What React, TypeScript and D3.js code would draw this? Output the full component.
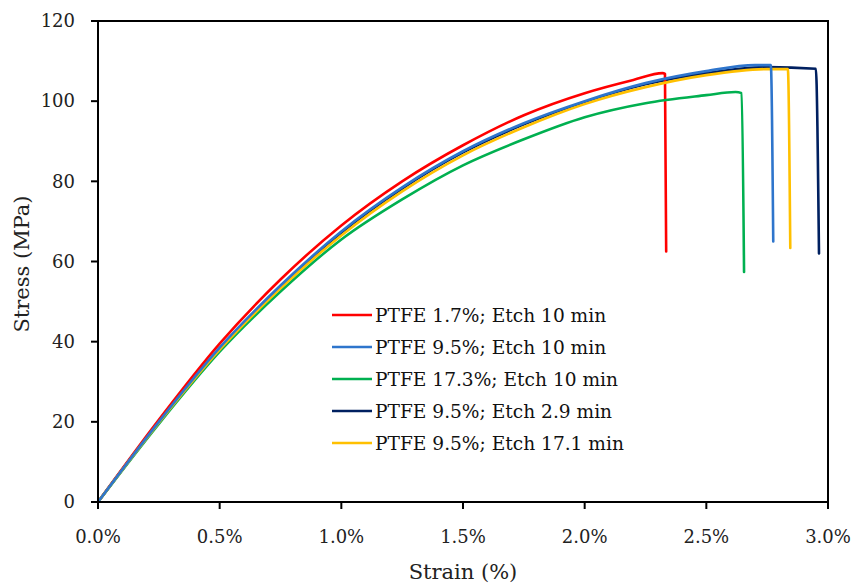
import React from "react";
import * as d3 from "d3";

const seriesNames = [
  "PTFE 1.7%; Etch 10 min",
  "PTFE 9.5%; Etch 10 min",
  "PTFE 17.3%; Etch 10 min",
  "PTFE 9.5%; Etch 2.9 min",
  "PTFE 9.5%; Etch 17.1 min",
];
const seriesColors = ["#FF0000", "#2E75CC", "#00B050", "#002060", "#FFC000"];
const drawOrder = [3, 0, 2, 4, 1];

// strain (%) , stress (MPa)
const redStrain = [0, 0.25, 0.5, 0.75, 1.0, 1.25, 1.5, 1.75, 2.0, 2.2, 2.32, 2.33, 2.335];
const redStress = [0, 20.5, 39.5, 55.5, 69, 80, 89, 96.5, 102, 105.3, 107, 106.8, 62.5];

const blueStrain = [0, 0.25, 0.5, 0.75, 1.0, 1.25, 1.5, 1.75, 2.0, 2.25, 2.5, 2.7, 2.765, 2.775];
const blueStress = [0, 20, 38.5, 54, 67.5, 78.5, 87.5, 94.5, 100, 104.5, 107.5, 109, 109, 65];

const greenStrain = [0, 0.25, 0.5, 0.75, 1.0, 1.25, 1.5, 1.75, 2.0, 2.25, 2.5, 2.62, 2.645, 2.655];
const greenStress = [0, 19.5, 37.5, 52.5, 65.5, 75.5, 84, 90.5, 96, 99.5, 101.5, 102.3, 102, 57.4];

const navyStrain = [0, 0.25, 0.5, 0.75, 1.0, 1.25, 1.5, 1.75, 2.0, 2.25, 2.5, 2.75, 2.95, 2.963];
const navyStress = [0, 20, 38.3, 53.8, 67.2, 78.2, 87.2, 94.2, 99.8, 104.2, 107, 108.5, 108.1, 62];

const yellowStrain = [0, 0.25, 0.5, 0.75, 1.0, 1.25, 1.5, 1.75, 2.0, 2.25, 2.5, 2.75, 2.835, 2.845];
const yellowStress = [0, 19.8, 38, 53.3, 66.5, 77.5, 86.5, 93.5, 99.3, 103.5, 106.5, 108, 108, 63.4];

const xTicks = [0, 0.5, 1.0, 1.5, 2.0, 2.5, 3.0];
const yTicks = [0, 20, 40, 60, 80, 100, 120];

const allStrain = [redStrain, blueStrain, greenStrain, navyStrain, yellowStrain];
const allStress = [redStress, blueStress, greenStress, navyStress, yellowStress];

const FONT = "'DejaVu Serif', serif";

export default function App() {
  const W = 855, H = 584;
  const left = 98, right = 828, top = 21, bottom = 502;
  const x = d3.scaleLinear().domain([0, 3]).range([left, right]);
  const y = d3.scaleLinear().domain([0, 120]).range([bottom, top]);
  const line = d3
    .line<[number, number]>()
    .x((d) => x(d[0]))
    .y((d) => y(d[1]))
    .curve(d3.curveMonotoneX);

  return (
    <svg width={W} height={H} style={{ position: "absolute", left: 0, top: 0, background: "#fff" }}>
      <rect x={0} y={0} width={W} height={H} fill="#fff" />
      {drawOrder.map((i) => (
        <path
          key={i}
          d={line(allStrain[i].map((v, j) => [v, allStress[i][j]] as [number, number])) || ""}
          fill="none"
          stroke={seriesColors[i]}
          strokeWidth={2.6}
          strokeLinejoin="round"
          strokeLinecap="round"
        />
      ))}
      {/* frame */}
      <path
        d={`M${left},${top} H${right} V${bottom} H${left} Z`}
        fill="none"
        stroke="#000"
        strokeWidth={2}
      />
      {yTicks.map((t) => (
        <g key={"y" + t}>
          <line x1={left - 7} x2={left} y1={y(t)} y2={y(t)} stroke="#000" strokeWidth={2} />
          <text x={75} y={y(t)} dy="0.35em" textAnchor="end" fontFamily={FONT} fontSize={18} fill="#222">
            {t}
          </text>
        </g>
      ))}
      {xTicks.map((t) => (
        <g key={"x" + t}>
          <line x1={x(t)} x2={x(t)} y1={bottom} y2={bottom + 7} stroke="#000" strokeWidth={2} />
          <text x={x(t)} y={537} dy="0.35em" textAnchor="middle" fontFamily={FONT} fontSize={18} fill="#222">
            {t.toFixed(1) + "%"}
          </text>
        </g>
      ))}
      <text
        transform={`translate(22,264) rotate(-90)`}
        textAnchor="middle"
        dy="0.35em"
        fontFamily={FONT}
        fontSize={21}
        fill="#222"
      >
        Stress (MPa)
      </text>
      <text x={463} y={572} textAnchor="middle" dy="0.35em" fontFamily={FONT} fontSize={21} fill="#222">
        Strain (%)
      </text>
      {seriesNames.map((n, i) => {
        const ly = 315 + i * 32;
        return (
          <g key={n}>
            <line x1={332} x2={372} y1={ly} y2={ly} stroke={seriesColors[i]} strokeWidth={2.6} />
            <text x={375} y={ly} dy="0.35em" fontFamily={FONT} fontSize={18.6} fill="#111">
              {n}
            </text>
          </g>
        );
      })}
    </svg>
  );
}
